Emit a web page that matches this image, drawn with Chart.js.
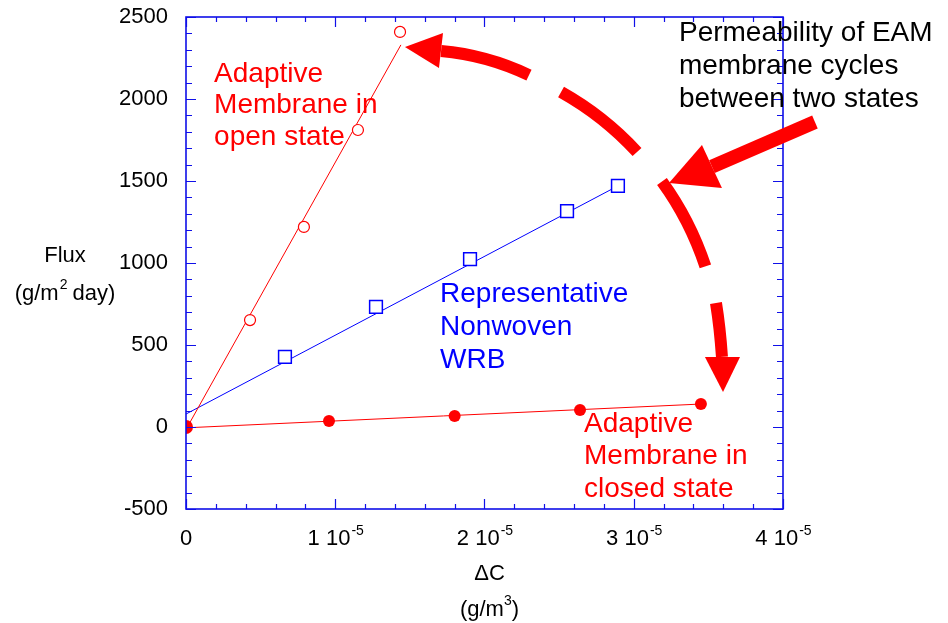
<!DOCTYPE html>
<html><head><meta charset="utf-8">
<script src="https://cdn.jsdelivr.net/npm/chart.js@4.4.0/dist/chart.umd.min.js"></script>
<style>html,body{margin:0;padding:0;background:#fff}#wrap{width:948px;height:623px}</style>
</head><body><div id="wrap"><canvas id="c" width="948" height="623"></canvas></div>
<script>
// ---- data (x in g/m^3, y in g/m^2 day) ----
const openX = [0.429e-5, 0.79e-5, 1.152e-5, 1.434e-5];
const openY = [652, 1220, 1811, 2409];
const openFitX = [0, 1.44e-5];
const openFitY = [-15, 2330];
const wrbX = [0.663e-5, 1.273e-5, 1.903e-5, 2.553e-5, 2.894e-5];
const wrbY = [427, 732, 1024, 1317, 1470];
const wrbFitX = [0, 2.894e-5];
const wrbFitY = [79, 1470];
const closedX = [0, 0.958e-5, 1.80e-5, 2.64e-5, 3.45e-5];
const closedY = [0, 37, 67, 104, 140];
const closedFitX = [0, 3.45e-5];
const closedFitY = [-5, 140];
const xTickValues = [0, 1e-5, 2e-5, 3e-5, 4e-5];
const xTickLabels = ['0', '1 10', '2 10', '3 10', '4 10'];
const xTickExps = ['', '-5', '-5', '-5', '-5'];
const yTickValues = [-500, 0, 500, 1000, 1500, 2000, 2500];

// annotation geometry in data units (x in 1e-5, y flux)
const arcDashes = [
  [[1.709, 2293], [2.017, 2268], [2.298, 2146]],
  [[2.513, 2043], [2.801, 1896], [3.022, 1677]],
  [[3.189, 1497], [3.377, 1262], [3.480, 979]],
  [[3.551, 756], [3.578, 604], [3.591, 427]]
];
const arrowHeads = [
  [[1.467, 2317], [1.722, 2402], [1.695, 2189]],
  [[3.598, 213], [3.477, 427], [3.712, 427]],
  [[3.236, 1488], [3.457, 1720], [3.591, 1457]]
];
const straightShaft = [[4.214, 1860], [3.524, 1588]];

const labels = [
  {lines: ['Adaptive', 'Membrane in', 'open state'], x: 0.188, y: 2104, color: '#ff0000', lh: 31.5},
  {lines: ['Representative', 'Nonwoven', 'WRB'], x: 1.702, y: 762, color: '#0000ff', lh: 33},
  {lines: ['Adaptive', 'Membrane in', 'closed state'], x: 2.667, y: -30, color: '#ff0000', lh: 32.5},
  {lines: ['Permeability of EAM', 'membrane cycles', 'between two states'], x: 3.303, y: 2354, color: '#000000', lh: 33}
];

const FONT = '"Liberation Sans", Arial, Helvetica, sans-serif';
const AXIS = '#1010e8';
const RED = '#ff0000';
const BLUE = '#0000ff';

const pts = (xs, ys) => xs.map((v, i) => ({x: v, y: ys[i]}));

const deco = {
  id: 'deco',
  afterDraw(chart) {
    const {ctx, chartArea: a, scales: {x, y}} = chart;
    const X = v => x.getPixelForValue(v), Y = v => y.getPixelForValue(v);
    const P = p => [X(p[0] * 1e-5), Y(p[1])];
    ctx.save();
    // tick marks (inside, all four sides)
    ctx.strokeStyle = AXIS; ctx.lineWidth = 1.2;
    ctx.beginPath();
    for (let i = 0; i <= 20; i++) {
      const px = Math.round(X(i * 0.2e-5)) + 0.5;
      const L = i % 5 === 0 ? 10 : 5;
      ctx.moveTo(px, a.bottom); ctx.lineTo(px, a.bottom - L);
      ctx.moveTo(px, a.top); ctx.lineTo(px, a.top + L);
    }
    for (let v = -500; v <= 2500; v += 100) {
      const py = Math.round(Y(v)) + 0.5;
      const L = v % 500 === 0 ? 10 : 6;
      ctx.moveTo(a.left, py); ctx.lineTo(a.left + L, py);
      ctx.moveTo(a.right, py); ctx.lineTo(a.right - L, py);
    }
    ctx.stroke();
    ctx.lineWidth = 1.6;
    ctx.strokeRect(a.left, a.top, a.right - a.left, a.bottom - a.top);

    // x tick labels with superscripts
    ctx.fillStyle = '#000';
    ctx.textBaseline = 'alphabetic';
    ctx.textAlign = 'left';
    xTickValues.forEach((v, i) => {
      ctx.font = '22px ' + FONT;
      const w1 = ctx.measureText(xTickLabels[i]).width;
      ctx.font = '14px ' + FONT;
      const w2 = xTickExps[i] ? ctx.measureText(xTickExps[i]).width : 0;
      const start = X(v) - (w1 + w2) / 2;
      ctx.font = '22px ' + FONT;
      ctx.fillText(xTickLabels[i], start, 545);
      if (xTickExps[i]) { ctx.font = '14px ' + FONT; ctx.fillText(xTickExps[i], start + w1 + 1, 535); }
    });

    // axis titles
    const cx = (a.left + a.right) / 2 + 5;
    ctx.font = '22px ' + FONT;
    ctx.textAlign = 'center';
    ctx.fillText('\u0394C', cx, 580);
    ctx.textAlign = 'left';
    {
      const s1 = '(g/m', s2 = '3', s3 = ')';
      ctx.font = '22px ' + FONT; const w1 = ctx.measureText(s1).width, w3 = ctx.measureText(s3).width;
      ctx.font = '14px ' + FONT; const w2 = ctx.measureText(s2).width;
      let sx = cx - (w1 + w2 + w3) / 2;
      ctx.font = '22px ' + FONT; ctx.fillText(s1, sx, 616);
      ctx.font = '14px ' + FONT; ctx.fillText(s2, sx + w1, 605);
      ctx.font = '22px ' + FONT; ctx.fillText(s3, sx + w1 + w2, 616);
    }
    {
      const ycx = 65;
      ctx.font = '22px ' + FONT; ctx.textAlign = 'center';
      ctx.fillText('Flux', ycx, 262);
      ctx.textAlign = 'left';
      const s1 = '(g/m', s2 = '2', s3 = ' day)';
      const w1 = ctx.measureText(s1).width, w3 = ctx.measureText(s3).width;
      ctx.font = '14px ' + FONT; const w2 = ctx.measureText(s2).width;
      let sx = ycx - (w1 + w2 + w3) / 2;
      ctx.font = '22px ' + FONT; ctx.fillText(s1, sx, 300);
      ctx.font = '14px ' + FONT; ctx.fillText(s2, sx + w1 + 1, 289);
      ctx.font = '22px ' + FONT; ctx.fillText(s3, sx + w1 + w2, 300);
    }

    // annotation labels
    labels.forEach(l => {
      ctx.font = '28px ' + FONT; ctx.fillStyle = l.color; ctx.textAlign = 'left';
      const [lx, ly] = P([l.x, l.y]);
      l.lines.forEach((t, i) => ctx.fillText(t, lx, ly + i * l.lh));
    });

    // arrows
    ctx.strokeStyle = RED; ctx.fillStyle = RED; ctx.lineCap = 'butt';
    ctx.lineWidth = 12;
    arcDashes.forEach(d => {
      const [p0, p1, p2] = d.map(P);
      ctx.beginPath(); ctx.moveTo(p0[0], p0[1]);
      ctx.quadraticCurveTo(p1[0], p1[1], p2[0], p2[1]); ctx.stroke();
    });
    ctx.lineWidth = 14;
    {
      const [p0, p1] = straightShaft.map(P);
      ctx.beginPath(); ctx.moveTo(p0[0], p0[1]); ctx.lineTo(p1[0], p1[1]); ctx.stroke();
    }
    arrowHeads.forEach(h => {
      const q = h.map(P);
      ctx.beginPath(); ctx.moveTo(q[0][0], q[0][1]); ctx.lineTo(q[1][0], q[1][1]); ctx.lineTo(q[2][0], q[2][1]); ctx.closePath(); ctx.fill();
    });
    ctx.restore();
  }
};

new Chart(document.getElementById('c'), {
  type: 'scatter',
  data: {
    datasets: [
      {data: pts(openFitX, openFitY), showLine: true, borderColor: RED, borderWidth: 1, pointRadius: 0, order: 5},
      {data: pts(wrbFitX, wrbFitY), showLine: true, borderColor: BLUE, borderWidth: 1, pointRadius: 0, order: 5},
      {data: pts(closedFitX, closedFitY), showLine: true, borderColor: RED, borderWidth: 1, pointRadius: 0, order: 5},
      {data: pts(openX, openY), pointStyle: 'circle', pointRadius: 5.5, borderWidth: 1.2, borderColor: RED, backgroundColor: '#fff', order: 1},
      {data: pts(wrbX, wrbY), pointStyle: 'rect', pointRadius: 9, borderWidth: 1.5, borderColor: BLUE, backgroundColor: '#fff', order: 1},
      {data: pts(closedX, closedY), pointStyle: 'circle', pointRadius: [7, 6, 6, 6, 6], borderWidth: 0, borderColor: RED, backgroundColor: RED, order: 1}
    ]
  },
  options: {
    responsive: false, animation: false, devicePixelRatio: 1,
    layout: {padding: {left: 0, top: 17, right: 165, bottom: 0}},
    plugins: {legend: {display: false}, tooltip: {enabled: false}},
    scales: {
      x: {
        type: 'linear', min: 0, max: 4e-5,
        grid: {display: false}, border: {display: false},
        ticks: {display: false},
        afterBuildTicks: s => { s.ticks = xTickValues.map(v => ({value: v})); },
        afterFit: s => { s.height = 114; s.paddingLeft = 0; s.paddingRight = 0; }
      },
      y: {
        type: 'linear', min: -500, max: 2500,
        grid: {display: false, drawTicks: false}, border: {display: false},
        afterBuildTicks: s => { s.ticks = yTickValues.map(v => ({value: v})); },
        ticks: {color: '#000', font: {family: FONT, size: 22}, padding: 18, callback: v => String(v)},
        afterFit: s => { s.width = 186; s.paddingTop = 0; s.paddingBottom = 0; }
      }
    }
  },
  plugins: [deco]
});
</script></body></html>
